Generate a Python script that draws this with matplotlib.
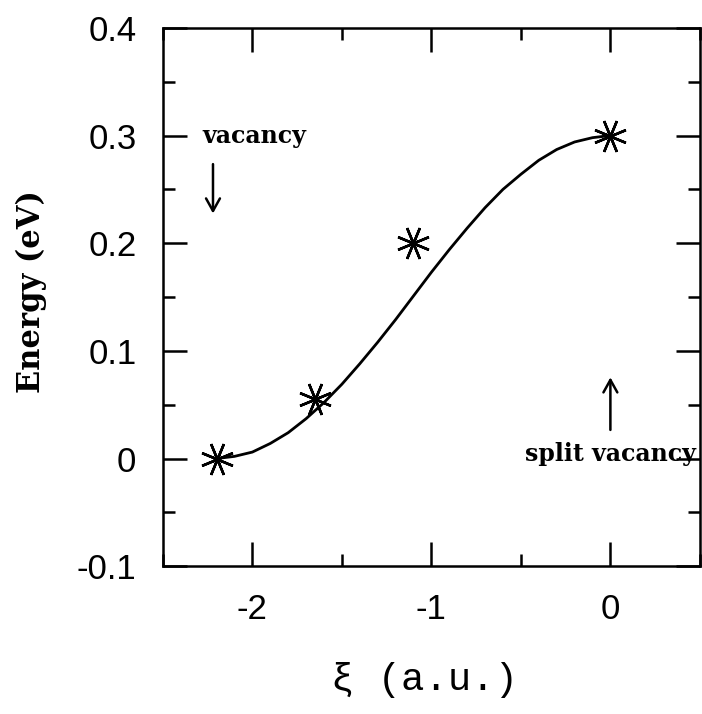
import numpy as np
import matplotlib.pyplot as plt
from matplotlib.ticker import MultipleLocator, FixedLocator

# calculated points (stars)
xi_points = [-2.2, -1.65, -1.1, 0.0]
energy_points = [0.0, 0.055, 0.2, 0.3]

# smooth fitted curve
xi_curve = [-2.2, -2.1, -2.0, -1.9, -1.8, -1.7, -1.6, -1.5, -1.4, -1.3, -1.2, -1.1,
            -1.0, -0.9, -0.8, -0.7, -0.6, -0.5, -0.4, -0.3, -0.2, -0.1, 0.0]
energy_curve = [0.0, 0.002, 0.006, 0.014, 0.024, 0.037, 0.052, 0.069, 0.088, 0.108,
                0.129, 0.151, 0.173, 0.194, 0.214, 0.233, 0.250, 0.264, 0.277,
                0.287, 0.294, 0.298, 0.3]

x_ticks = [-2, -1, 0]
x_ticklabels = ["-2", "-1", "0"]
y_ticks = [-0.1, 0, 0.1, 0.2, 0.3, 0.4]
y_ticklabels = ["-0.1", "0", "0.1", "0.2", "0.3", "0.4"]

fig = plt.figure(figsize=(7.02, 7.14), dpi=100)
ax = fig.add_axes([0.232, 0.207, 0.765, 0.754])

ax.plot(xi_curve, energy_curve, color="black", lw=2.0, solid_capstyle="round")
ax.plot(xi_points, energy_points, ls="none", marker=(8, 2, 22.5), ms=24,
        mec="black", mew=1.8, color="black")

ax.set_xlim(-2.5, 0.5)
ax.set_ylim(-0.1, 0.4)
ax.xaxis.set_major_locator(FixedLocator(x_ticks))
ax.set_xticklabels(x_ticklabels)
ax.xaxis.set_minor_locator(MultipleLocator(0.5))
ax.yaxis.set_major_locator(FixedLocator(y_ticks))
ax.set_yticklabels(y_ticklabels)
ax.yaxis.set_minor_locator(MultipleLocator(0.05))

for s in ax.spines.values():
    s.set_linewidth(1.8)
ax.tick_params(which="both", direction="in", top=True, right=True, width=1.8)
ax.tick_params(which="major", length=17, labelsize=25, pad=19)
ax.tick_params(which="minor", length=8.5)
for lab in ax.get_xticklabels() + ax.get_yticklabels():
    lab.set_family("Liberation Sans")

ax.set_ylabel("Energy (eV)", family="DejaVu Serif", fontweight="bold", fontsize=22)
ax.yaxis.set_label_coords(-0.244, 0.511)
ax.yaxis.label.set_va("center")
ax.set_xlabel("ξ (a.u.)", family="Liberation Mono", fontsize=28)
ax.xaxis.set_label_coords(0.488, -0.212)
ax.xaxis.label.set_va("center")

ax.text(-1.99, 0.30, "vacancy", family="DejaVu Serif", fontweight="bold",
        fontsize=17, ha="center", va="center")
ax.annotate("", xy=(-2.22, 0.225), xytext=(-2.22, 0.276),
            arrowprops=dict(arrowstyle="->,head_length=0.9,head_width=0.5",
                            color="black", lw=1.8))
ax.text(0.0, 0.004, "split vacancy", family="DejaVu Serif", fontweight="bold",
        fontsize=17, ha="center", va="center", clip_on=False)
ax.annotate("", xy=(0.0, 0.078), xytext=(0.0, 0.024),
            arrowprops=dict(arrowstyle="->,head_length=0.9,head_width=0.5",
                            color="black", lw=1.8))

fig.savefig("out.png", dpi=100)
